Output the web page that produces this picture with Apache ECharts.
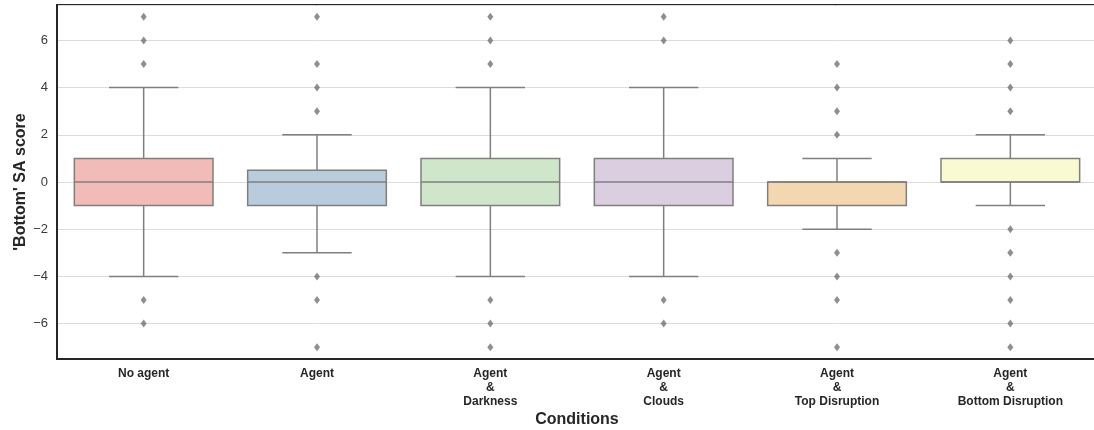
<!DOCTYPE html>
<html>
<head>
<meta charset="utf-8">
<script src="https://cdn.jsdelivr.net/npm/echarts@6/dist/echarts.min.js"></script>
<style>
  html, body { margin: 0; padding: 0; background: #ffffff; }
  #chart { width: 1094px; height: 430px; }
</style>
</head>
<body>
<div id="chart"></div>
<script>
// Conditions along the x axis
const categories = [
  'No agent',
  'Agent',
  'Agent\n&\nDarkness',
  'Agent\n&\nClouds',
  'Agent\n&\nTop Disruption',
  'Agent\n&\nBottom Disruption'
];

// Box statistics per condition
const whiskerLow  = [-4, -3, -4, -4, -2, -1];
const q1          = [-1, -1, -1, -1, -1,  0];
const median      = [ 0,  0,  0,  0,  0,  0];
const q3          = [ 1, 0.5, 1,  1,  0,  1];
const whiskerHigh = [ 4,  2,  4,  4,  1,  2];

// Points beyond the whiskers
const outliers = [
  [5, 6, 7, -5, -6],
  [3, 4, 5, 7, -4, -5, -7],
  [5, 6, 7, -5, -6, -7],
  [6, 7, -5, -6],
  [2, 3, 4, 5, -3, -4, -5, -7],
  [3, 4, 5, 6, -2, -3, -4, -5, -6, -7]
];

// Box fill colours
const boxColors = ['#f1bcb8', '#b9ccdd', '#cfe6ca', '#dccee1', '#f3d7b1', '#f9f9d2'];

const lineGray = '#7f7f7f';
const fontFamily = "'Liberation Sans', Arial, sans-serif";

const boxData = categories.map((c, i) => [i, whiskerLow[i], q1[i], median[i], q3[i], whiskerHigh[i]]);
const outlierData = [];
outliers.forEach((vals, i) => vals.forEach(v => outlierData.push([i, v])));

function renderBox(params, api) {
  const idx = api.value(0);
  const band = api.size([1, 0])[0];
  const boxW = band * 0.8;
  const capW = band * 0.4;
  const pLow = api.coord([idx, api.value(1)]);
  const pQ1 = api.coord([idx, api.value(2)]);
  const pMed = api.coord([idx, api.value(3)]);
  const pQ3 = api.coord([idx, api.value(4)]);
  const pHigh = api.coord([idx, api.value(5)]);
  const cx = pMed[0];
  const lineStyle = { stroke: lineGray, lineWidth: 1.5, fill: null };
  return {
    type: 'group',
    children: [
      { type: 'line', shape: { x1: cx, y1: pQ1[1], x2: cx, y2: pLow[1] }, style: lineStyle },
      { type: 'line', shape: { x1: cx, y1: pQ3[1], x2: cx, y2: pHigh[1] }, style: lineStyle },
      { type: 'line', shape: { x1: cx - capW / 2, y1: pLow[1], x2: cx + capW / 2, y2: pLow[1] }, style: lineStyle },
      { type: 'line', shape: { x1: cx - capW / 2, y1: pHigh[1], x2: cx + capW / 2, y2: pHigh[1] }, style: lineStyle },
      {
        type: 'rect',
        shape: { x: cx - boxW / 2, y: pQ3[1], width: boxW, height: pQ1[1] - pQ3[1] },
        style: { fill: boxColors[idx], stroke: lineGray, lineWidth: 1.5 }
      },
      { type: 'line', shape: { x1: cx - boxW / 2, y1: pMed[1], x2: cx + boxW / 2, y2: pMed[1] }, style: lineStyle }
    ]
  };
}

const chart = echarts.init(document.getElementById('chart'), null, { renderer: 'canvas' });
chart.setOption({
  animation: false,
  backgroundColor: '#ffffff',
  textStyle: { fontFamily: fontFamily },
  grid: {
    left: 57,
    top: 5,
    width: 1040,
    bottom: 71,
    outerBoundsMode: 'none',
    containLabel: false,
    show: true,
    borderColor: '#262626',
    borderWidth: 2,
    backgroundColor: 'transparent'
  },
  xAxis: {
    type: 'category',
    data: categories,
    boundaryGap: true,
    name: 'Conditions',
    nameLocation: 'middle',
    nameGap: 53,
    nameMoveOverlap: false,
    nameTextStyle: { fontSize: 16, fontWeight: 'bold', color: '#262626', fontFamily: fontFamily },
    axisLine: { show: true, onZero: false, lineStyle: { color: '#262626', width: 2 } },
    axisTick: { show: false },
    axisLabel: {
      interval: 0,
      margin: 8,
      fontSize: 12,
      fontWeight: 'bold',
      color: '#262626',
      lineHeight: 14,
      fontFamily: fontFamily
    },
    splitLine: { show: false }
  },
  yAxis: {
    type: 'value',
    min: -7.5,
    max: 7.5,
    splitNumber: 7,
    name: "'Bottom' SA score",
    nameLocation: 'middle',
    nameGap: 28,
    nameMoveOverlap: false,
    nameTextStyle: { fontSize: 16, fontWeight: 'bold', color: '#262626', fontFamily: fontFamily },
    axisLine: { show: true, lineStyle: { color: '#262626', width: 2 } },
    axisTick: { show: false },
    axisLabel: {
      margin: 9,
      fontSize: 13,
      color: '#3a3a3a',
      showMinLabel: false,
      showMaxLabel: false,
      fontFamily: fontFamily,
      formatter: v => String(v).replace('-', '\u2212')
    },
    splitLine: { show: true, lineStyle: { color: '#dcdcdc', width: 1 } }
  },
  series: [
    {
      type: 'custom',
      renderItem: renderBox,
      data: boxData,
      encode: { x: 0, y: [1, 2, 3, 4, 5] },
      z: 3
    },
    {
      type: 'scatter',
      data: outlierData,
      symbol: 'diamond',
      symbolSize: [6, 8],
      itemStyle: { color: '#737373' },
      z: 4
    }
  ]
});
</script>
</body>
</html>
